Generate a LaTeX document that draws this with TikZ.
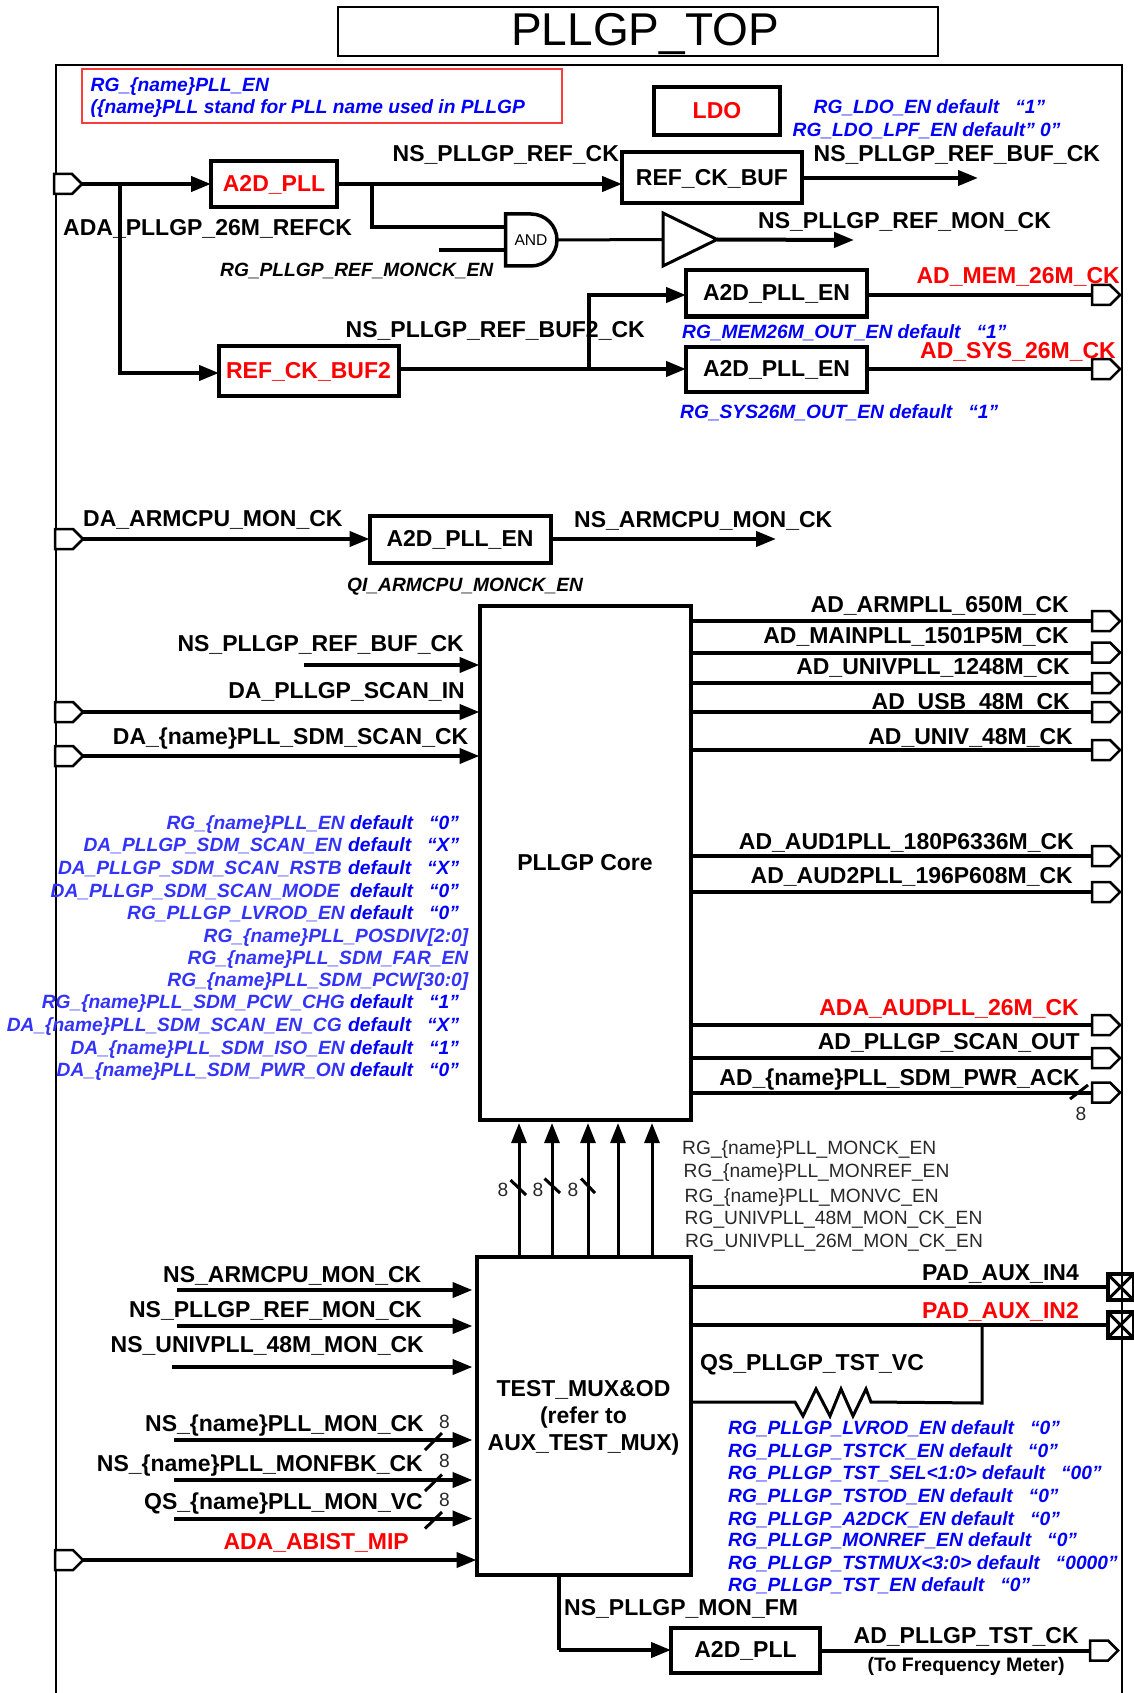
\documentclass[tikz,border=0pt]{standalone}
\usepackage{fontspec}
\setmainfont{Liberation Sans}
\usetikzlibrary{arrows.meta,shapes.geometric,shapes.symbols,shapes.misc}
\definecolor{wireblack}{RGB}{0,0,0}
\definecolor{regblue}{RGB}{0,0,255}
\definecolor{nameblue}{RGB}{51,51,255}
\definecolor{sigred}{RGB}{255,0,0}
\definecolor{notered}{RGB}{250,60,60}
\definecolor{reggray}{RGB}{40,40,40}
\tikzset{
  >={Triangle[length=20pt,width=15pt]},
  sig/.style={font=\fontsize{23}{27}\selectfont\bfseries,inner sep=0pt,
    text height=16.5pt,text depth=0pt,text=#1},
  sig/.default=black,
  note/.style={font=\fontsize{19.2}{23}\selectfont\bfseries\itshape,inner sep=0pt,
    text height=14pt,text depth=0pt,text=#1},
  note/.default=regblue,
  reg/.style={font=\fontsize{19.2}{23}\selectfont,inner sep=0pt,
    text height=14pt,text depth=0pt,text=reggray},
  box/.style={draw=black,line width=4pt,outer sep=0pt,inner sep=0pt,align=center,
    font=\fontsize{23}{27}\selectfont\bfseries,text height=15pt,text depth=0pt,text=#1},
  box/.default=black,
  port/.style={signal,signal to=east,draw=black,line width=2.5pt,fill=white,outer sep=0pt,
    inner sep=0pt,minimum width=28pt,minimum height=20pt,anchor=west},
  pad/.style={draw=black,line width=4pt,outer sep=0pt,inner sep=0pt,minimum size=26pt},
  wire/.style={draw=wireblack,line width=4pt},
  flow/.style={->,wire},
  thinwire/.style={draw=wireblack,line width=3pt},
}
\begin{document}
\begin{tikzpicture}[x=1pt,y=-1pt]
  \useasboundingbox (0,0) rectangle (1133,1693);
  \draw[line width=2pt] (56,1693) -- (56,65) -- (1122,65) -- (1122,1693);
  \node[draw=black,line width=2.5pt,minimum width=600pt,minimum height=49pt,outer sep=0pt,inner sep=0pt,
    font=\fontsize{46}{50}\selectfont,text height=28pt,text depth=0pt] (title) at (638,31.5) {\hspace*{14pt}PLLGP\_TOP};
  % name note
  \node[draw=notered,line width=1.3pt,minimum width=480pt,minimum height=54pt,outer sep=0pt] (nameframe) at (322,96) {};
  \node[note,anchor=west] (n1) at (90.5,85) {RG\_\{name\}PLL\_EN};
  \node[note,anchor=west] (n2) at (90.5,106.5) {(\{name\}PLL stand for PLL name used in PLLGP};
  % LDO
  \node[box=sigred,minimum width=126pt,minimum height=48pt] (ldo) at (717,111) {LDO};
  \node[note,anchor=west] (ldo1) at (813.5,107) {RG\_LDO\_EN default\hspace{16pt}“1”};
  \node[note,anchor=west] (ldo2) at (792.5,130) {RG\_LDO\_LPF\_EN default” 0”};
  % reference clock path
  \node[port] (p26) at (54,184) {};
  \node[box=sigred,minimum width=126pt,minimum height=46pt] (a2d) at (274,184.5) {A2D\_PLL};
  \node[box,minimum width=180pt,minimum height=51pt] (buf) at (712,178) {REF\_CK\_BUF};
  \node[box=sigred,minimum width=180pt,minimum height=50pt] (buf2) at (308.5,370.5) {REF\_CK\_BUF2};
  \node[box,minimum width=181pt,minimum height=46pt] (en1) at (776.5,293.5) {A2D\_PLL\_EN};
  \node[box,minimum width=181pt,minimum height=45pt] (en2) at (776.5,369) {A2D\_PLL\_EN};
  \node[rounded rectangle,rounded rectangle left arc=none,draw=black,line width=3.5pt,outer sep=0pt,inner sep=0pt,
    minimum width=51pt,minimum height=52pt,font=\fontsize{15.6}{18}\selectfont] (and) at (531,240) {AND};
  \node[isosceles triangle,isosceles triangle apex angle=54,isosceles triangle stretches,draw=black,line width=3pt,outer sep=0pt,
    inner sep=0pt,minimum width=53pt,minimum height=54pt,anchor=apex] (tri) at (717,239.5) {};
  \node[port] (pmem) at (1092,295) {};
  \node[port] (psys) at (1092,369) {};
  \coordinate (j26) at (120,184);
  \coordinate (jref) at (372,184);
  \coordinate (jbuf) at (589,369);
  \coordinate (obuf) at (978,178);
  \coordinate (omon) at (854,240);
  \coordinate (ia) at (505,227);
  \coordinate (ib) at (439,250);
  \coordinate (ibuf2) at (219,373);
  \draw[wire] (p26.east) -- (j26);
  \draw[flow] (j26) -- (a2d.west |- j26);
  \draw[flow] (j26) |- (ibuf2);
  \draw[flow] (a2d.east |- jref) -- (buf.west |- jref);
  \draw[wire] (jref) |- (ia);
  \draw[wire] (ib) -- (and.west |- ib);
  \draw[thinwire] (and.east) -- (tri.apex -| tri.west);
  \draw[flow] (tri.apex) -- (omon);
  \draw[flow] (buf.east) -- (obuf);
  \draw[flow] (buf2.east |- jbuf) -- (en2.west);
  \draw[flow] (jbuf) |- (en1.west |- pmem);
  \draw[wire] (en1.east |- pmem) -- (pmem.west);
  \draw[wire] (en2.east) -- (psys.west);
  \node[sig,anchor=west] (l1) at (392.5,153) {NS\_PLLGP\_REF\_CK};
  \node[sig,anchor=west] (l2) at (813.5,153) {NS\_PLLGP\_REF\_BUF\_CK};
  \node[sig,anchor=west] (l3) at (63,227) {ADA\_PLLGP\_26M\_REFCK};
  \node[sig,anchor=west] (l4) at (758,220) {NS\_PLLGP\_REF\_MON\_CK};
  \node[sig,anchor=west] (l5) at (345.5,329.5) {NS\_PLLGP\_REF\_BUF2\_CK};
  \node[sig=sigred,anchor=east] (l6) at (1120,275.5) {AD\_MEM\_26M\_CK};
  \node[sig=sigred,anchor=east] (l7) at (1116,350) {AD\_SYS\_26M\_CK};
  \node[note=black,anchor=west] (l8) at (220,270) {RG\_PLLGP\_REF\_MONCK\_EN};
  \node[note,anchor=west] (l9) at (682,331) {RG\_MEM26M\_OUT\_EN default\hspace{16pt}“1”};
  \node[note,anchor=west] (l10) at (680,411) {RG\_SYS26M\_OUT\_EN default\hspace{16pt}“1”};
  % arm monitor
  \node[port] (parm) at (55,539) {};
  \node[box,minimum width=181pt,minimum height=47pt] (en3) at (460,539) {A2D\_PLL\_EN};
  \coordinate (oarm) at (776,539);
  \draw[flow] (parm.east) -- (en3.west);
  \draw[flow] (en3.east) -- (oarm);
  \node[sig,anchor=west] (l11) at (83,518.5) {DA\_ARMCPU\_MON\_CK};
  \node[sig,anchor=west] (l12) at (574,519) {NS\_ARMCPU\_MON\_CK};
  \node[note=black,anchor=west] (l13) at (347,584) {QI\_ARMCPU\_MONCK\_EN};
  % core
  \node[box,text height=16.5pt,minimum width=211pt,minimum height=514pt] (core) at (585,862.5) {PLLGP Core};
  \foreach \y/\xr/\ly/\txt [count=\i] in {
    621/1069/604.5/AD\_ARMPLL\_650M\_CK,
    652.5/1069/635/AD\_MAINPLL\_1501P5M\_CK,
    683/1070/666/AD\_UNIVPLL\_1248M\_CK,
    712/1070/701/AD\_USB\_48M\_CK,
    750/1073/736/AD\_UNIV\_48M\_CK,
    856/1074/841.5/AD\_AUD1PLL\_180P6336M\_CK,
    892/1073/875.5/AD\_AUD2PLL\_196P608M\_CK,
    1058/1080/1041/AD\_PLLGP\_SCAN\_OUT,
    1092.5/1080/1077.5/AD\_\{name\}PLL\_SDM\_PWR\_ACK}{
    \node[port] (po\i) at (1092,\y) {};
    \draw[wire] (core.east |- po\i.west) -- (po\i.west);
    \node[sig,anchor=east] (lo\i) at (\xr,\ly) {\txt};
  }
  \node[port] (paud) at (1092,1025) {};
  \draw[wire] (core.east |- paud.west) -- (paud.west);
  \node[sig=sigred,anchor=east] (laud) at (1079,1007) {ADA\_AUDPLL\_26M\_CK};
  \draw[line width=3pt] (1070,1099) -- (1088,1085);
  \node[reg,anchor=center] (w0) at (1081,1113) {8};
  \coordinate (iref) at (304,665);
  \draw[flow] (iref) -- (core.west |- iref);
  \node[sig,anchor=east] (i1) at (464,643.5) {NS\_PLLGP\_REF\_BUF\_CK};
  \node[port] (pin1) at (55,712) {};
  \node[port] (pin2) at (55,756) {};
  \draw[flow] (pin1.east) -- (core.west |- pin1);
  \draw[flow] (pin2.east) -- (core.west |- pin2);
  \node[sig,anchor=east] (i2) at (465,690) {DA\_PLLGP\_SCAN\_IN};
  \node[sig,anchor=east] (i3) at (468.5,736) {DA\_\{name\}PLL\_SDM\_SCAN\_CK};
  % register list, left
  \foreach \y/\xe/\xd/\txt/\val [count=\i] in {
    822/345/350/RG\_\{name\}PLL\_EN/0,
    844/342/348/DA\_PLLGP\_SDM\_SCAN\_EN/X,
    867/342/348/DA\_PLLGP\_SDM\_SCAN\_RSTB/X,
    890/340/350/DA\_PLLGP\_SDM\_SCAN\_MODE/0,
    912/345/350/RG\_PLLGP\_LVROD\_EN/0,
    1001/345/350/RG\_\{name\}PLL\_SDM\_PCW\_CHG/1,
    1024/342/348/DA\_\{name\}PLL\_SDM\_SCAN\_EN\_CG/X,
    1047/345/350/DA\_\{name\}PLL\_SDM\_ISO\_EN/1,
    1069/345/350/DA\_\{name\}PLL\_SDM\_PWR\_ON/0}{
    \node[note=nameblue,anchor=east] (rl\i) at (\xe,\y) {\txt};
    \node[note,anchor=west] (rd\i) at (\xd,\y) {default\hspace{16pt}“\val”};
  }
  \foreach \y/\txt [count=\i] in {
    935/RG\_\{name\}PLL\_POSDIV[2:0],
    957/RG\_\{name\}PLL\_SDM\_FAR\_EN,
    979/RG\_\{name\}PLL\_SDM\_PCW[30:0]}{
    \node[note=nameblue,anchor=east] (rs\i) at (468.5,\y) {\txt};
  }
  % test mux
  \node[box,text height={},text depth={},minimum width=214pt,minimum height=318pt] (mux) at (583.5,1416) {\rule{0pt}{19pt}TEST\_MUX\&OD\\(refer to\\AUX\_TEST\_MUX)};
  \foreach \x in {519,552,588,618,652}{
    \draw[->,thinwire] (mux.north -| \x,0) -- (\x,1123);
  }
  \foreach \xa/\ya/\xb/\yb/\xn [count=\i] in {510.5/1180/526/1195/503,544.5/1178.5/560/1193/538,581/1178.5/595/1193/573}{
    \draw[line width=3pt] (\xa,\ya) -- (\xb,\yb);
    \node[reg] (w\i) at (\xn,1189.5) {8};
  }
  \foreach \x/\y/\txt [count=\i] in {
    682/1147/RG\_\{name\}PLL\_MONCK\_EN,
    683.5/1170.5/RG\_\{name\}PLL\_MONREF\_EN,
    684.5/1195/RG\_\{name\}PLL\_MONVC\_EN,
    684.5/1217/RG\_UNIVPLL\_48M\_MON\_CK\_EN,
    685/1240.5/RG\_UNIVPLL\_26M\_MON\_CK\_EN}{
    \node[reg,anchor=west] (g\i) at (\x,\y) {\txt};
  }
  \foreach \y/\xs/\xr/\ly/\txt [count=\i] in {
    1290/177/421.5/1274/NS\_ARMCPU\_MON\_CK,
    1326/177/422/1309/NS\_PLLGP\_REF\_MON\_CK,
    1367/172/424/1344/NS\_UNIVPLL\_48M\_MON\_CK,
    1440/174/424/1423/NS\_\{name\}PLL\_MON\_CK,
    1480/174/423/1463.5/NS\_\{name\}PLL\_MONFBK\_CK,
    1518.5/174/423/1501/QS\_\{name\}PLL\_MON\_VC}{
    \coordinate (ms\i) at (\xs,\y);
    \draw[flow] (ms\i) -- ([xshift=-4pt]mux.west |- ms\i);
    \node[sig,anchor=east] (ml\i) at (\xr,\ly) {\txt};
  }
  \foreach \ya/\yb/\yn [count=\i] in {1450/1433/1421.5,1491/1474.5/1460,1528.5/1512/1499}{
    \draw[line width=3pt] (425,\ya) -- (442,\yb);
    \node[reg] (v\i) at (444.5,\yn) {8};
  }
  \node[port] (pabist) at (55,1560) {};
  \draw[flow] (pabist.east) -- (mux.west |- pabist);
  \node[sig=sigred,anchor=east] (abist) at (409,1541) {ADA\_ABIST\_MIP};
  % pads
  \foreach \y/\nm in {1287/pad4,1325/pad2}{
    \node[pad] (\nm) at (1120.5,\y) {};
    \draw[line width=3pt] (\nm.north west) -- (\nm.south east) (\nm.north east) -- (\nm.south west);
  }
  \coordinate (rl) at (795,1402);
  \coordinate (tap) at (982,1403);
  \draw[wire] (mux.east |- pad4) -- (pad4.west);
  \draw[wire] (mux.east |- pad2) -- (pad2.west);
  \draw[thinwire] (mux.east |- rl) -- (rl) -- ++(8,14) -- ++(13,-27) -- ++(14,27) -- ++(11,-27)
    -- ++(12,27) -- ++(13,-27) -- ++(5,13) -- (tap) -- (tap |- pad2);
  \node[sig,anchor=east] (pl4) at (1079,1272) {PAD\_AUX\_IN4};
  \node[sig=sigred,anchor=east] (pl2) at (1079,1310.5) {PAD\_AUX\_IN2};
  \node[sig,anchor=west] (tst) at (700,1362) {QS\_PLLGP\_TST\_VC};
  % register list, right
  \foreach \y/\txt/\val [count=\i] in {
    1427/RG\_PLLGP\_LVROD\_EN/0,
    1450/RG\_PLLGP\_TSTCK\_EN/0,
    1472.5/RG\_PLLGP\_TST\_SEL<1:0>/00,
    1495.5/RG\_PLLGP\_TSTOD\_EN/0,
    1518.5/RG\_PLLGP\_A2DCK\_EN/0,
    1539/RG\_PLLGP\_MONREF\_EN/0,
    1562/RG\_PLLGP\_TSTMUX<3:0>/0000,
    1584/RG\_PLLGP\_TST\_EN/0}{
    \node[note,anchor=west] (q\i) at (728,\y) {\txt{} default\hspace{16pt}“\val”};
  }
  % frequency meter
  \node[box,minimum width=149pt,minimum height=45pt] (a2dfm) at (745.5,1650) {A2D\_PLL};
  \node[port] (pfm) at (1090,1650.5) {};
  \coordinate (jfm) at (559,1650);
  \draw[wire] (mux.south -| jfm) -- (jfm);
  \draw[flow] (jfm) -- (a2dfm.west);
  \draw[wire] (a2dfm.east |- pfm) -- (pfm.west);
  \node[sig,anchor=west] (fm) at (564,1607) {NS\_PLLGP\_MON\_FM};
  \node[sig,anchor=west] (tstck) at (853.5,1635) {AD\_PLLGP\_TST\_CK};
  \node[anchor=west,inner sep=0pt,font=\fontsize{19.5}{23}\selectfont\bfseries,text height=14pt,text depth=0pt] (meter) at (867.5,1664.5) {(To Frequency Meter)};
\end{tikzpicture}
\end{document}
